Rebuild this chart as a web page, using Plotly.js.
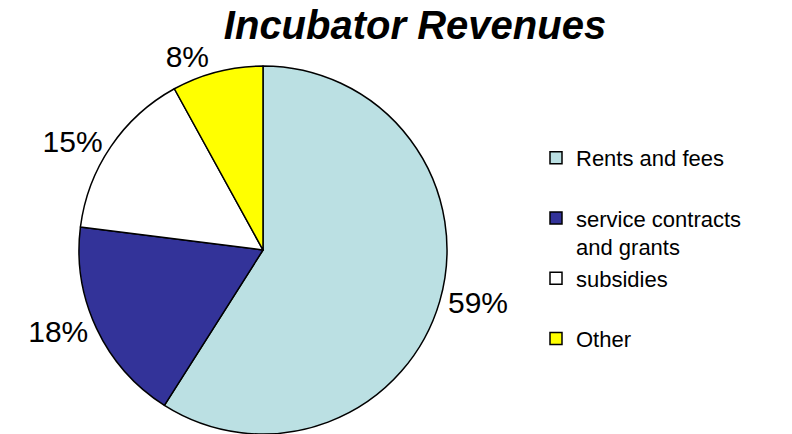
<!DOCTYPE html>
<html><head><meta charset="utf-8">
<script src="https://cdn.plot.ly/plotly-3.0.1.min.js"></script>
<style>html,body{margin:0;padding:0;background:#fff}#chart{width:792px;height:434px}</style>
</head><body><div id="chart"></div>
<script>
const categories = ["Rents and fees<br> ", "service contracts<br>and grants", "subsidies<br> ", "Other"];
const shares = [59, 18, 15, 8];
const sliceColors = ["#BBE0E3", "#333399", "#FFFFFF", "#FFFF00"];

const W = 792, H = 434;
const cx = 263, r = 184;
const trace = {
  type: "pie",
  labels: categories,
  values: shares,
  sort: false,
  direction: "clockwise",
  rotation: 0,
  marker: {colors: sliceColors, line: {color: "#000000", width: 1.5}},
  texttemplate: "%{percent:.0%}",
  textposition: "outside",
  outsidetextfont: {family: "Arial, 'Liberation Sans', sans-serif", size: 30, color: "#000"},
  hoverinfo: "label+percent",
  domain: {x: [(cx - r) / W, (cx + r) / W], y: [0, (2 * r) / H]}
};
const layout = {
  width: W, height: H,
  margin: {l: 0, r: 0, t: 0, b: 0},
  paper_bgcolor: "#fff",
  font: {family: "Arial, 'Liberation Sans', sans-serif", color: "#000"},
  title: {text: "<b><i>Incubator Revenues</i></b>", x: 415 / W, xanchor: "center", y: 1 - 25 / H, yanchor: "middle",
          font: {family: "Arial, 'Liberation Sans', sans-serif", size: 40, color: "#000"}},
  showlegend: true,
  legend: {x: 536 / W, xanchor: "left", y: 1 - 137 / H, yanchor: "top", valign: "top",
           font: {family: "Arial, 'Liberation Sans', sans-serif", size: 22, color: "#000"},
           bgcolor: "rgba(0,0,0,0)"}
};
Plotly.newPlot("chart", [trace], layout, {displayModeBar: false, staticPlot: true});
</script></body></html>
